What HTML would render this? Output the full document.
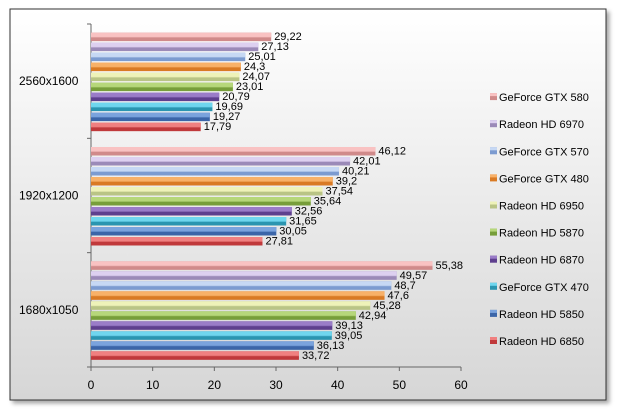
<!DOCTYPE html>
<html><head><meta charset="utf-8"><style>
body{margin:0;background:#fff;}
svg{display:block;font-family:"Liberation Sans",sans-serif;}
</style></head><body>
<svg width="618" height="414">
<defs>
<linearGradient id="bg" x1="0" y1="0" x2="0" y2="1"><stop offset="0" stop-color="#ffffff"/><stop offset="1" stop-color="#d6d6d6"/></linearGradient>
<filter id="sh" x="-5%" y="-5%" width="110%" height="110%"><feDropShadow dx="3" dy="3" stdDeviation="2" flood-color="#000" flood-opacity="0.35"/></filter>
</defs>
<rect x="10" y="9" width="596" height="391" fill="url(#bg)" stroke="#333" stroke-width="1" filter="url(#sh)"/>
<g id="plot"></g>
<g id="legend"></g>
</svg>
<script>
const categories=["1680x1050","1920x1200","2560x1600"];
const seriesNames=["Radeon HD 6850","Radeon HD 5850","GeForce GTX 470","Radeon HD 6870","Radeon HD 5870","Radeon HD 6950","GeForce GTX 480","GeForce GTX 570","Radeon HD 6970","GeForce GTX 580"];
const s6850=[33.72,27.81,17.79];
const s5850=[36.13,30.05,19.27];
const s470=[39.05,31.65,19.69];
const s6870=[39.13,32.56,20.79];
const s5870=[42.94,35.64,23.01];
const s6950=[45.28,37.54,24.07];
const s480=[47.6,39.2,24.3];
const s570=[48.7,40.21,25.01];
const s6970=[49.57,42.01,27.13];
const s580=[55.38,46.12,29.22];
const seriesValues=[s6850,s5850,s470,s6870,s5870,s6950,s480,s570,s6970,s580];
const xTicks=[0,10,20,30,40,50,60];
const colors=[["#f08080","#c0393b"],["#7aa3dd","#3b65a8"],["#6fd6ee","#2a95b0"],["#9a7cc8","#5e3f8e"],["#b6d77a","#779e3a"],["#eef2b8","#b9c485"],["#f8b168","#d97a24"],["#c6d8f4","#7c9bd0"],["#ddd0f0","#9b8ab8"],["#f9c2c2","#d08a8a"]];
const NS="http://www.w3.org/2000/svg";
const x0=91,x1=461,yTop=24,yBot=367,xMax=60;
const xs=v=>x0+(x1-x0)*v/xMax;
const gH=(yBot-yTop)/categories.length;
const plot=document.getElementById('plot');
function mk(t,a){const e=document.createElementNS(NS,t);for(const k in a)e.setAttribute(k,a[k]);return e;}
let ax=mk('line',{x1:x0,y1:yTop,x2:x0,y2:yBot,stroke:'#666'});


plot.appendChild(ax);
let bx=mk('line',{x1:x0,y1:yBot,x2:x1,y2:yBot,stroke:'#666'});


plot.appendChild(bx);
xTicks.forEach(t=>{
 const tk=mk('line',{x1:xs(t),y1:yBot,x2:xs(t),y2:yBot+4,stroke:'#666'});
 
 
 plot.appendChild(tk);
 const tl=mk('text',{x:xs(t),y:yBot+22,'text-anchor':'middle','font-size':'12',fill:'#000'});
 tl.textContent=t;
 
 
 plot.appendChild(tl);
});
for(let c=0;c<=categories.length;c++){
 const y=yTop+gH*c;
 const tk=mk('line',{x1:x0-4,y1:y,x2:x0,y2:y,stroke:'#666'});
 
 
 plot.appendChild(tk);
}
categories.forEach((cat,ci)=>{
 const gBottom=yBot-gH*ci;
 const gc=gBottom-gH/2;
 const cl=mk('text',{x:19,y:gc+4,'font-size':'12',fill:'#000'});
 cl.textContent=cat;
 
 
 plot.appendChild(cl);
 const step=10,bh=8.5;
 const start=gc+50;
 seriesValues.forEach((arr,si)=>{
  const v=arr[ci];
  const yb=start-step*si;
  const y=yb-bh;
  const g=mk('g',{});
  
  
  const [lc,dc]=colors[si];
  g.appendChild(mk('rect',{x:x0,y:y,width:xs(v)-x0,height:bh,fill:dc}));
  g.appendChild(mk('rect',{x:x0,y:y,width:xs(v)-x0,height:bh*0.5,fill:lc}));
  g.appendChild(mk('rect',{x:x0,y:y+bh*0.4,width:xs(v)-x0,height:1.5,fill:lc,opacity:0.6}));
  plot.appendChild(g);
  const lb=mk('text',{x:xs(v)+3,y:yb-1,'font-size':'11',fill:'#000'});
  lb.textContent=String(v).replace('.',',');
  
  
  plot.appendChild(lb);
 });
});
const leg=document.getElementById('legend');
seriesNames.forEach((n,si)=>{
 const y=341-27.1*si;
 const g=mk('g',{});
 
 
 g.appendChild(mk('rect',{x:490,y:y-4,width:7,height:7,fill:colors[si][1]}));
 g.appendChild(mk('rect',{x:490,y:y-4,width:7,height:3,fill:colors[si][0]}));
 const t=mk('text',{x:499,y:y+4,'font-size':'11',fill:'#000'});
 t.textContent=n;
 g.appendChild(t);
 leg.appendChild(g);
});
</script>
</body></html>
